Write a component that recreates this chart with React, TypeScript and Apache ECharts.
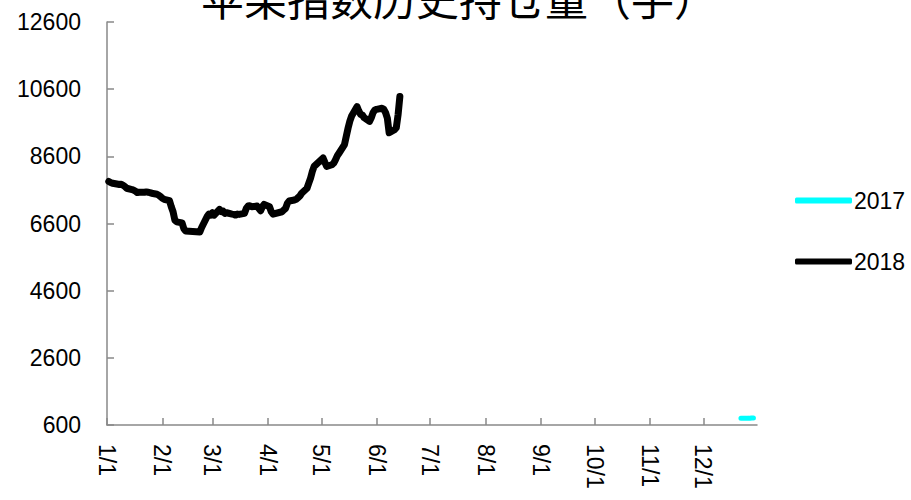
import React, { useEffect, useRef } from "react";
import * as echarts from "echarts";

const TITLE = "苹果指数历史持仓量（手）";
const SERIES_NAMES = ["2017", "2018"];
const DAYS_IN_MONTH = [31, 28, 31, 30, 31, 30, 31, 31, 30, 31, 30, 31];

const Y_MIN = 600;
const Y_MAX = 12600;
const Y_STEP = 2000;

const dates2017 = ["12/22", "12/25", "12/26", "12/27", "12/28", "12/29"];
const values2017 = [800, 800, 805, 800, 810, 810];

const dates2018 = [
  "1/2", "1/3", "1/4", "1/5", "1/8", "1/9", "1/10", "1/11", "1/12",
  "1/15", "1/16", "1/17", "1/18", "1/19", "1/22", "1/23", "1/24", "1/25", "1/26",
  "1/29", "1/30", "1/31", "2/1", "2/2", "2/5", "2/6", "2/7", "2/8", "2/9",
  "2/12", "2/13", "2/14", "2/22", "2/23", "2/26", "2/27", "2/28",
  "3/1", "3/2", "3/5", "3/6", "3/7", "3/8", "3/9", "3/12", "3/13", "3/14", "3/15", "3/16",
  "3/19", "3/20", "3/21", "3/22", "3/23", "3/26", "3/27", "3/28", "3/29", "3/30",
  "4/2", "4/3", "4/4", "4/9", "4/10", "4/11", "4/12", "4/13",
  "4/16", "4/17", "4/18", "4/19", "4/20", "4/23", "4/24", "4/25", "4/26", "4/27",
  "5/2", "5/3", "5/4", "5/7", "5/8", "5/9", "5/10", "5/11",
  "5/14", "5/15", "5/16", "5/17", "5/18", "5/21", "5/22", "5/23", "5/24", "5/25",
  "5/28", "5/29", "5/30", "5/31", "6/1", "6/4", "6/5", "6/6", "6/7", "6/8",
  "6/11", "6/12", "6/13", "6/14",
];
const values2018 = [
  7850, 7820, 7800, 7790, 7760, 7770, 7740, 7700, 7650,
  7610, 7590, 7560, 7520, 7530, 7530, 7540, 7530, 7520, 7500,
  7470, 7440, 7400, 7350, 7320, 7280, 7100, 6950, 6700, 6650,
  6620, 6450, 6380, 6350, 6480, 6800, 6880, 6850,
  6920, 6850, 7020, 6950, 6970, 6900, 6920, 6880, 6870, 6850, 6880, 6870,
  6900, 7050, 7120, 7130, 7100, 7120, 7050, 6980, 7100, 7170,
  7100, 6950, 6880, 6950, 7000, 7050, 7200, 7270,
  7300, 7320, 7370, 7420, 7500, 7650, 7800, 7950, 8150, 8300,
  8550, 8420, 8300, 8350, 8400, 8500, 8620, 8700,
  8950, 9200, 9440, 9650, 9800, 10080, 9950, 9850, 9830, 9750,
  9640, 9750, 9900, 9980, 10000, 10030, 10000, 9900, 9735, 9300,
  9390, 9450, 9835, 10380,
];

const FONT = '"Liberation Sans", Arial, sans-serif';

export default function App() {
  const ref = useRef<HTMLDivElement>(null);

  useEffect(() => {
    if (!ref.current) return;
    const chart = echarts.init(ref.current, null, { renderer: "svg" });

    const categories: string[] = [];
    const firstOfMonth = new Set<number>();
    DAYS_IN_MONTH.forEach((n, m) => {
      for (let d = 1; d <= n; d++) {
        if (d === 1) firstOfMonth.add(categories.length);
        categories.push(`${m + 1}/${d}`);
      }
    });

    const isFirst = (i: number) => firstOfMonth.has(i);

    chart.setOption({
      animation: false,
      backgroundColor: "#ffffff",
      graphic: [
        {
          type: "text",
          x: 459,
          y: -3,
          style: {
            text: TITLE,
            font: '43px "Noto Sans CJK SC"',
            fill: "#000000",
            align: "center",
            verticalAlign: "middle",
          },
        },
      ],
      legend: {
        orient: "vertical",
        left: 790,
        top: 184,
        itemWidth: 57,
        itemHeight: 6,
        itemGap: 38,
        icon: "roundRect",
        textStyle: { fontFamily: FONT, fontSize: 23, color: "#000000", padding: [0, 0, 0, -3] },
        data: SERIES_NAMES,
      },
      grid: { left: 107, right: 154, top: 22, bottom: 75, containLabel: false },
      xAxis: {
        type: "category",
        data: categories,
        boundaryGap: false,
        axisLine: { show: true, lineStyle: { color: "#898989", width: 1.5 } },
        axisTick: {
          show: true,
          inside: true,
          length: 7,
          interval: (i: number) => isFirst(i),
          lineStyle: { color: "#898989", width: 1.5 },
        },
        axisLabel: {
          interval: (i: number) => isFirst(i),
          rotate: -90,
          margin: 19,
          fontFamily: FONT,
          fontSize: 23,
          color: "#000000",
        },
        splitLine: { show: false },
      },
      yAxis: {
        type: "value",
        min: Y_MIN,
        max: Y_MAX,
        interval: Y_STEP,
        axisLine: { show: true, lineStyle: { color: "#898989", width: 1.5 } },
        axisTick: { show: true, inside: true, length: 7, lineStyle: { color: "#898989", width: 1.5 } },
        axisLabel: {
          margin: 26,
          fontFamily: FONT,
          fontSize: 23,
          color: "#000000",
          formatter: (v: number) => String(v),
        },
        splitLine: { show: false },
      },
      series: [
        {
          name: SERIES_NAMES[0],
          type: "line",
          symbol: "none",
          color: "#00ffff",
          lineStyle: { width: 5, color: "#00ffff", cap: "round", join: "round" },
          data: dates2017.map((d, i) => [d, values2017[i]]),
        },
        {
          name: SERIES_NAMES[1],
          type: "line",
          symbol: "none",
          color: "#000000",
          lineStyle: { width: 7, color: "#000000", cap: "round", join: "round" },
          data: dates2018.map((d, i) => [d, values2018[i]]),
        },
      ],
    });

    return () => chart.dispose();
  }, []);

  return (
    <div
      ref={ref}
      style={{ position: "absolute", left: 0, top: 0, width: 911, height: 500 }}
    />
  );
}
